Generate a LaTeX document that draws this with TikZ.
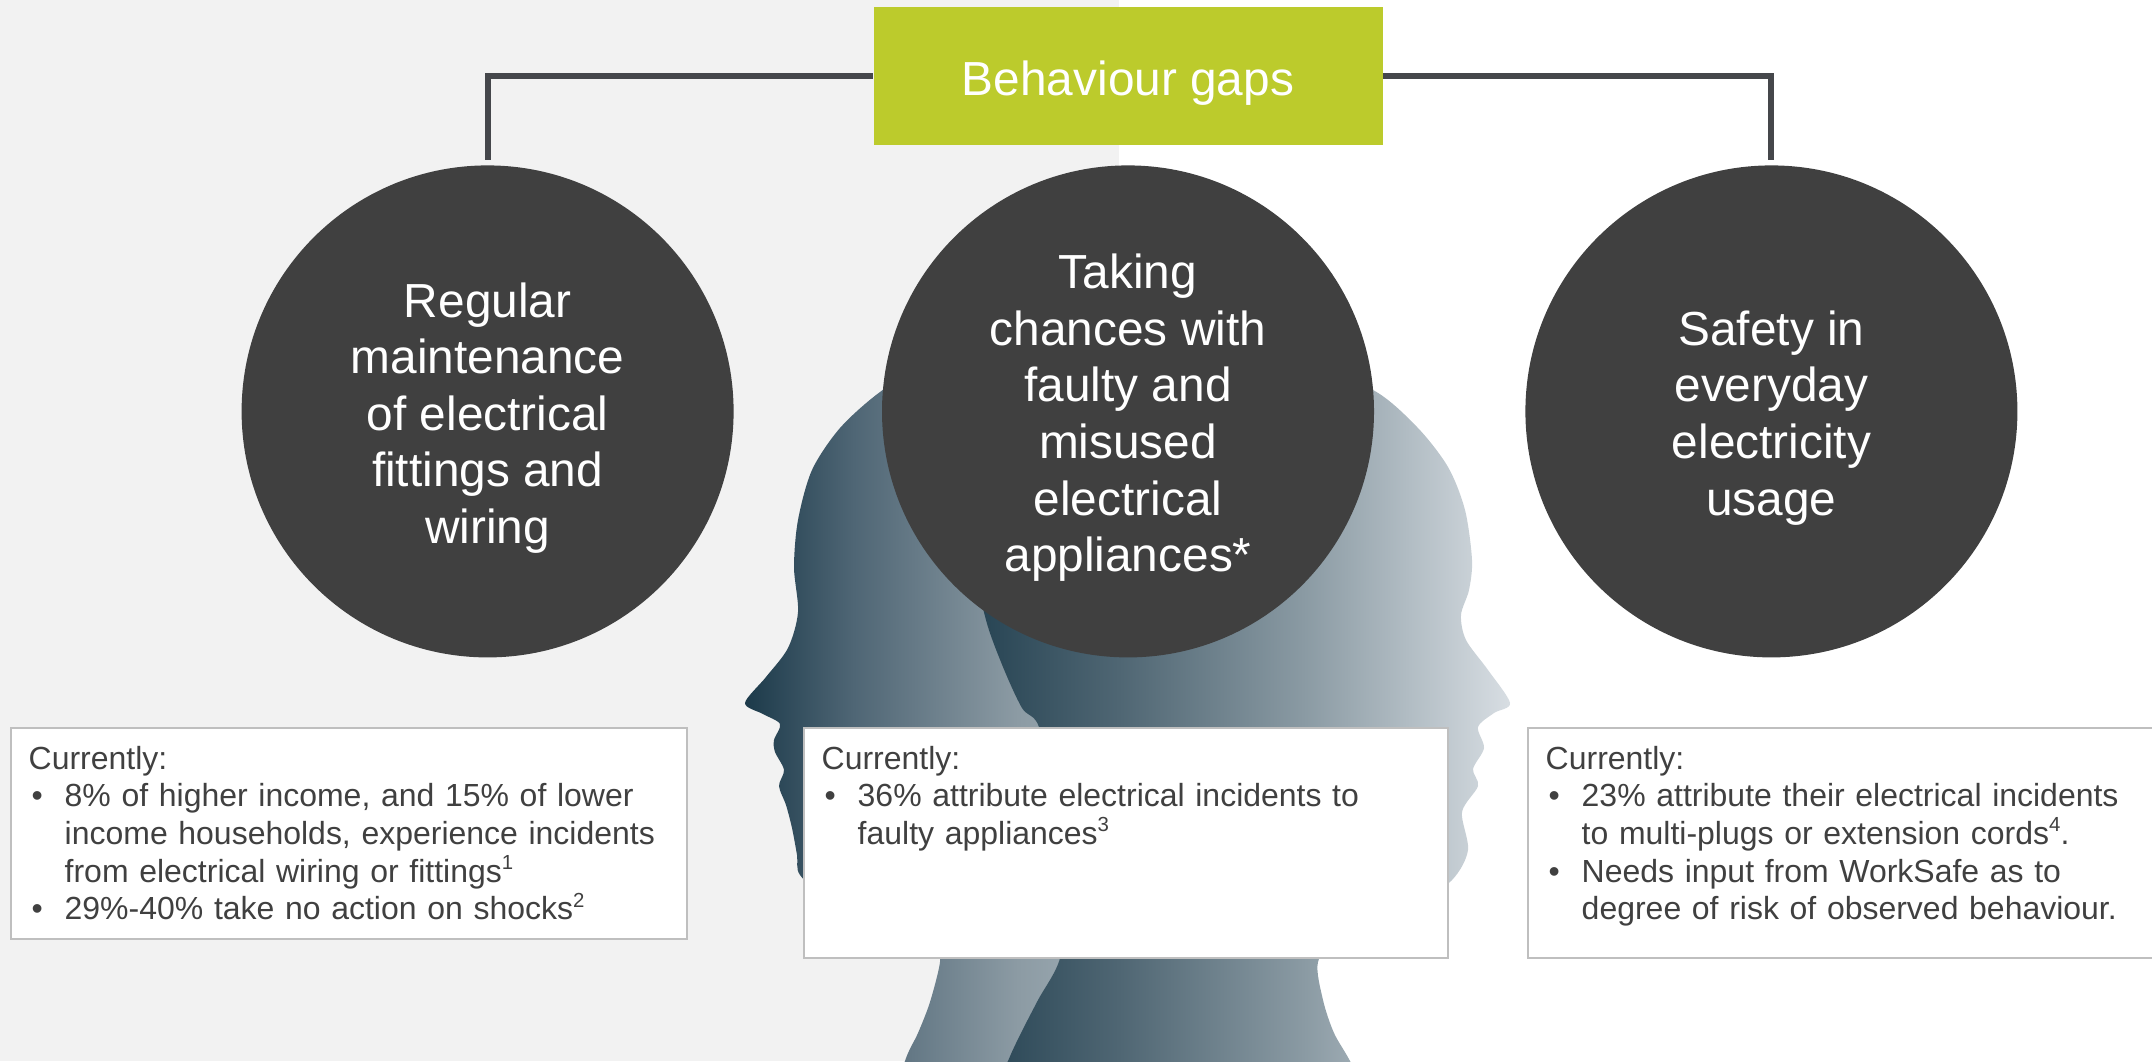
\documentclass[tikz,border=0pt]{standalone}
\usepackage{fontspec}
\setmainfont{Liberation Sans}
\usepackage{tikz}
\usetikzlibrary{positioning}

\definecolor{circfill}{HTML}{404040}
\definecolor{lime}{HTML}{BCCB2C}
\definecolor{panel}{HTML}{F2F2F2}
\definecolor{boxline}{HTML}{BFBFBF}
\definecolor{inkgray}{HTML}{404040}
\definecolor{wire}{HTML}{45474B}
% head gradients
\definecolor{lhA}{HTML}{1C3A4A}
\definecolor{lhB}{HTML}{4F6675}
\definecolor{lhC}{HTML}{8C9BA4}
\definecolor{lhD}{HTML}{98A6AE}
\definecolor{lhE}{HTML}{C2CBD1}
\definecolor{rhA}{HTML}{1B3A4A}
\definecolor{rhB}{HTML}{4F6673}
\definecolor{rhC}{HTML}{8A9AA3}
\definecolor{rhD}{HTML}{D8DEE3}
\pgfdeclarehorizontalshading{leftface}{100bp}{color(0bp)=(lhA); color(25bp)=(lhA);
  color(35bp)=(lhB); color(50bp)=(lhC); color(55bp)=(lhD); color(75bp)=(lhE); color(100bp)=(lhE)}
\pgfdeclarehorizontalshading{rightface}{100bp}{color(0bp)=(rhA); color(25bp)=(rhA);
  color(41bp)=(rhB); color(57bp)=(rhC); color(75bp)=(rhD); color(100bp)=(rhD)}

\newcommand{\gapitem}[1]{\par\noindent\hangindent=3.6mm\hangafter=1%
  \makebox[3.6mm][l]{\hspace{0.3mm}\textbullet}#1\par}
\newcommand{\refno}[1]{\raisebox{0.75ex}{\fontsize{5.8}{6}\selectfont #1}}
\newcommand{\topgap}{\rule{0pt}{13.5pt}}

\begin{document}
\begin{tikzpicture}[x=0.1mm,y=-0.1mm,
 gap/.style={circle,fill=circfill,text=white,minimum size=49.2mm,inner sep=0pt,
   align=center,font=\fontsize{13.6}{16.1}\selectfont},
 banner/.style={fill=lime,text=white,minimum width=50.9mm,minimum height=13.8mm,
   text height=11.3pt,text depth=0pt,font=\fontsize{13.6}{16.1}\selectfont},
 link/.style={draw=wire,line width=0.6mm,shorten >=0.5mm},
 panelbox/.style={draw=boxline,fill=white,line width=0.6pt,anchor=north west,inner sep=0pt},
 note/.style={text=inkgray,text width=64mm,align=left,inner sep=0pt,
   font=\fontsize{9.1}{10.7}\selectfont}]
\useasboundingbox (0,0) rectangle (2152,1061);
\clip (0,0) rectangle (2152,1061);
\fill[panel] (0,0) rectangle (1119,1061);

% two heads, back to back
\shade[shading=leftface] plot[smooth cycle,tension=0.5] coordinates {
 (1000,352) (930,362) (880,392) (840,428) (812,470) (798,520) (794,567) (798,612)
 (788,648) (766,677) (745,703) (763,714) (780,724) (774,740) (775,752) (784,770)
 (779,786) (786,805) (792,828) (797,855) (800,875) (830,900) (900,930) (935,950)
 (940,962) (930,1002) (918,1033) (905,1061) (890,1120) (1240,1120) (1258,900)
 (1250,700) (1215,520) (1160,420) (1090,365)};
\shade[shading=rightface] plot[smooth cycle,tension=0.5] coordinates {
 (1100,372) (1200,356) (1300,365) (1373,390) (1417,427) (1448,467) (1465,510)
 (1472,560) (1469,590) (1461,615) (1466,640) (1488,670) (1510,703) (1494,713)
 (1478,727) (1484,748) (1473,769) (1478,786) (1462,812) (1468,850) (1452,880)
 (1410,910) (1340,935) (1318,962) (1323,1000) (1334,1033) (1352,1065) (1375,1120)
 (985,1120) (1008,1061) (1021,1033) (1038,1000) (1060,958) (1062,900) (1052,800)
 (1039,727) (1022,708) (1003,667) (986,620) (975,560) (985,470) (1030,410)};

\node[banner] (title) at (1128,76) {Behaviour gaps};
\node[gap,below=1.9mm of title] (c2) {\topgap Taking\\chances with\\faulty and\\misused\\electrical\\appliances*};
\node[gap,left=14.7mm of c2] (c1) {\topgap Regular\\maintenance\\of electrical\\fittings and\\wiring};
\node[gap,right=15mm of c2] (c3) {\topgap Safety in\\everyday\\electricity\\usage};

\draw[link] (title.west) -| (c1.north);
\draw[link] (title.east) -| (c3.north);
\node[banner] at (title) {Behaviour gaps};

% findings under each gap
\node[panelbox,minimum width=67.6mm,minimum height=21.1mm] (box1) at (10,727) {};
\node[panelbox,minimum width=64.4mm,minimum height=23mm] (box2) at (803,727) {};
\node[panelbox,minimum width=64mm,minimum height=23mm] (box3) at (1527,727) {};

\node[note,below right=1.85mm and 1.8mm of box1.north west] (n1) {Currently:
 \gapitem{8\% of higher income, and 15\% of lower\newline income households, experience incidents\newline from electrical wiring or fittings\refno{1}}
 \gapitem{29\%-40\% take no action on shocks\refno{2}}};
\node[note,below right=1.85mm and 1.8mm of box2.north west] (n2) {Currently:
 \gapitem{36\% attribute electrical incidents to\newline faulty appliances\refno{3}}};
\node[note,below right=1.85mm and 1.8mm of box3.north west] (n3) {Currently:
 \gapitem{23\% attribute their electrical incidents\newline to multi-plugs or extension cords\refno{4}.}
 \gapitem{Needs input from WorkSafe as to\newline degree of risk of observed behaviour.}};
\end{tikzpicture}
\end{document}
